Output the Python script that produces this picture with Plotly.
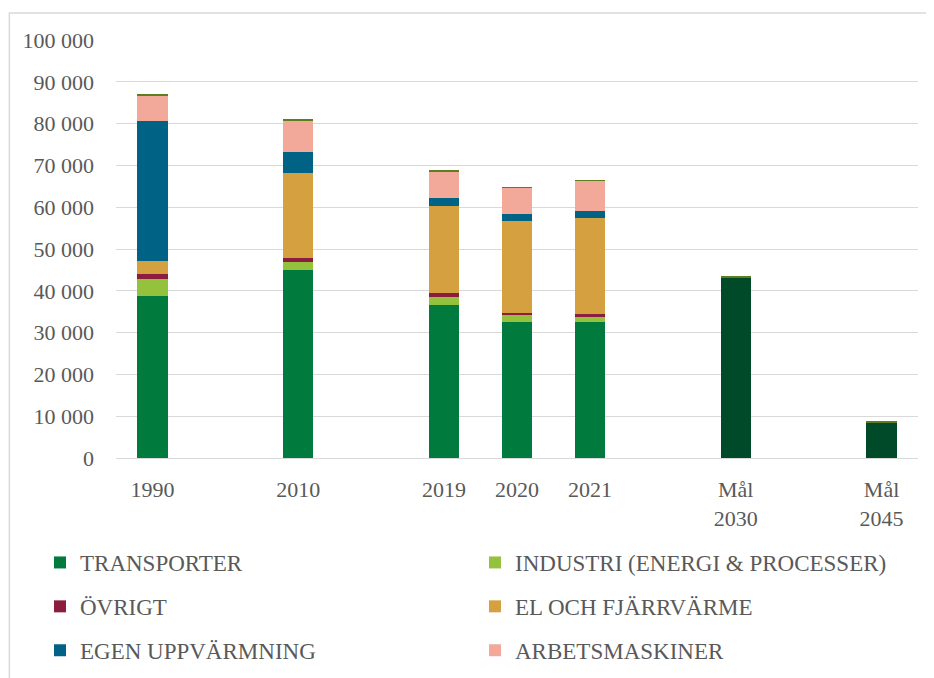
import plotly.graph_objects as go

categories = ["1990", " ", "2010", "  ", "2019", "2020", "2021", "   ", "Mål<br>2030", "    ", "Mål<br>2045"]

transporter = [38700, None, 44900, None, 36500, 32500, 32500, None, None, None, None]
industri = [4100, None, 1900, None, 1900, 1700, 1200, None, None, None, None]
ovrigt = [1200, None, 1000, None, 1000, 500, 700, None, None, None, None]
el_fjarrvarme = [3100, None, 20300, None, 20800, 22000, 23000, None, None, None, None]
egen_uppvarmning = [33500, None, 5000, None, 1900, 1700, 1700, None, None, None, None]
arbetsmaskiner = [6200, None, 7700, None, 6500, 6200, 7200, None, None, None, None]
mal = [None, None, None, None, None, None, None, None, 43300, None, 8500]
ovrigt_top = [250, None, 200, None, 200, 200, 200, None, 200, None, 200]

ytick_vals = [0, 10000, 20000, 30000, 40000, 50000, 60000, 70000, 80000, 90000, 100000]

FONT = "Liberation Serif"
TXT = "#595959"

fig = go.Figure()

series = [
    ("TRANSPORTER", transporter, "#007a3d", "legend"),
    ("INDUSTRI (ENERGI & PROCESSER)", industri, "#95c23d", "legend2"),
    ("ÖVRIGT", ovrigt, "#8b1e3f", "legend"),
    ("EL OCH FJÄRRVÄRME", el_fjarrvarme, "#d4a040", "legend2"),
    ("EGEN UPPVÄRMNING", egen_uppvarmning, "#006385", "legend"),
    ("ARBETSMASKINER", arbetsmaskiner, "#f2a999", "legend2"),
]
for i, (name, vals, col, lg) in enumerate(series):
    fig.add_trace(go.Bar(x=categories, y=vals, name=name, marker_color=col,
                         marker_line_width=0, legend=lg, legendgroup=f"g{i}"))

fig.add_trace(go.Bar(x=categories, y=mal, name="MÅL", marker_color="#004a29",
                     marker_line_width=0, showlegend=False))
fig.add_trace(go.Bar(x=categories, y=ovrigt_top, name="ÖVRIGT (övr.)", marker_color="#5e7d1c",
                     marker_line_width=0, showlegend=False))

# page has an 8px body margin; figure coordinates = screen - 8
OFF = 8
W, H = 934 - OFF, 678 - OFF
pl, pr, pt, pb = 115.5 - OFF, 918.5 - OFF, 40 - OFF, 457.7 - OFF
frame_l, frame_t = 8.75 - OFF, 13 - OFF

def px_x(p):
    return (p - pl) / (pr - pl)

def px_y(p):
    return (pb - p) / (pb - pt)

fig.update_layout(
    width=W, height=H,
    barmode="stack",
    bargap=0.585,
    plot_bgcolor="white",
    paper_bgcolor="white",
    separators=". ",
    font=dict(family=FONT, color=TXT, size=22),
    margin=dict(l=pl, r=W - pr, t=pt, b=H - pb, autoexpand=False),
    xaxis=dict(categoryorder="array", categoryarray=categories, showgrid=False,
               showline=False, ticks="", tickfont=dict(size=22, color=TXT, family=FONT),
               ticklabelstandoff=16, tickangle=0),
    yaxis=dict(range=[0, 100000], tickvals=ytick_vals, tickformat=",d",
               showgrid=True, gridcolor="#d9d9d9", gridwidth=1.3,
               zeroline=True, zerolinecolor="#d9d9d9", zerolinewidth=1.3,
               showline=False, ticks="", ticklabelstandoff=21,
               tickfont=dict(size=22, color=TXT, family=FONT)),
    legend=dict(xref="container", yref="container", x=(40 - OFF) / W, y=1 - (541 - OFF) / H,
                xanchor="left", yanchor="top", orientation="v",
                font=dict(size=23, color=TXT, family=FONT), tracegroupgap=11,
                bgcolor="rgba(0,0,0,0)"),
    legend2=dict(xref="container", yref="container", x=(475 - OFF) / W, y=1 - (541 - OFF) / H,
                 xanchor="left", yanchor="top", orientation="v",
                 font=dict(size=23, color=TXT, family=FONT), tracegroupgap=11,
                 bgcolor="rgba(0,0,0,0)"),
    shapes=[dict(type="rect", xref="paper", yref="paper",
                 x0=px_x(frame_l), x1=px_x(W + 20), y0=px_y(H + 20), y1=px_y(frame_t),
                 line=dict(color="#d9d9d9", width=1.5), fillcolor="rgba(0,0,0,0)",
                 layer="below")],
)

fig.write_html("out.html")
